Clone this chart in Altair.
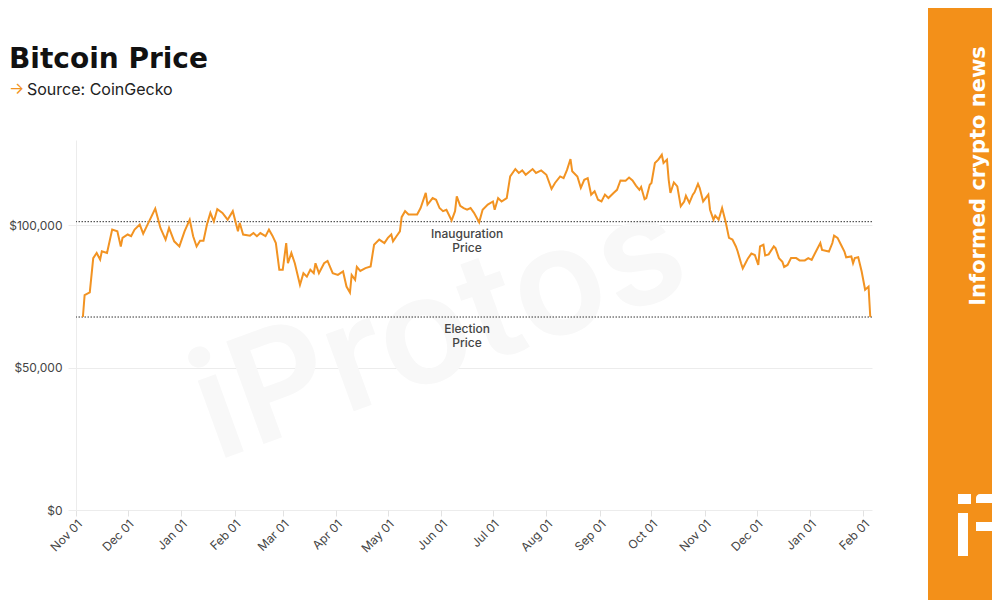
import altair as alt
import pandas as pd

# ---------------- data ----------------
dates = [
    "2024-11-05", "2024-11-06", "2024-11-09", "2024-11-11", "2024-11-13", "2024-11-15",
    "2024-11-16", "2024-11-19", "2024-11-22", "2024-11-25", "2024-11-27", "2024-11-28",
    "2024-12-01", "2024-12-03", "2024-12-05", "2024-12-08", "2024-12-10", "2024-12-13",
    "2024-12-17", "2024-12-20", "2024-12-23", "2024-12-25", "2024-12-28", "2024-12-31",
    "2025-01-03", "2025-01-06", "2025-01-08", "2025-01-10", "2025-01-12", "2025-01-14",
    "2025-01-16", "2025-01-18", "2025-01-20", "2025-01-22", "2025-01-25", "2025-01-28",
    "2025-01-31", "2025-02-03", "2025-02-04", "2025-02-06", "2025-02-10", "2025-02-12",
    "2025-02-14", "2025-02-16", "2025-02-19", "2025-02-21", "2025-02-23", "2025-02-25",
    "2025-02-27", "2025-03-01", "2025-03-03", "2025-03-04", "2025-03-06", "2025-03-08",
    "2025-03-11", "2025-03-13", "2025-03-15", "2025-03-17", "2025-03-19", "2025-03-20",
    "2025-03-22", "2025-03-25", "2025-03-27", "2025-03-30", "2025-04-02", "2025-04-05",
    "2025-04-07", "2025-04-09", "2025-04-10", "2025-04-12", "2025-04-13", "2025-04-15",
    "2025-04-18", "2025-04-21", "2025-04-23", "2025-04-26", "2025-04-29", "2025-05-01",
    "2025-05-03", "2025-05-04", "2025-05-06", "2025-05-08", "2025-05-09", "2025-05-11",
    "2025-05-13", "2025-05-16", "2025-05-18", "2025-05-20", "2025-05-23", "2025-05-24",
    "2025-05-27", "2025-05-29", "2025-05-31", "2025-06-02", "2025-06-04", "2025-06-07",
    "2025-06-09", "2025-06-10", "2025-06-12", "2025-06-14", "2025-06-16", "2025-06-18",
    "2025-06-20", "2025-06-23", "2025-06-25", "2025-06-28", "2025-07-01", "2025-07-02",
    "2025-07-04", "2025-07-06", "2025-07-09", "2025-07-11", "2025-07-14", "2025-07-16",
    "2025-07-18", "2025-07-20", "2025-07-24", "2025-07-26", "2025-07-29", "2025-08-01",
    "2025-08-04", "2025-08-06", "2025-08-09", "2025-08-11", "2025-08-13", "2025-08-15",
    "2025-08-16", "2025-08-19", "2025-08-21", "2025-08-23", "2025-08-25", "2025-08-27",
    "2025-08-29", "2025-08-31", "2025-09-02", "2025-09-04", "2025-09-06", "2025-09-09",
    "2025-09-11", "2025-09-13", "2025-09-16", "2025-09-18", "2025-09-20", "2025-09-22",
    "2025-09-24", "2025-09-25", "2025-09-27", "2025-09-28", "2025-09-30", "2025-10-01",
    "2025-10-03", "2025-10-05", "2025-10-07", "2025-10-08", "2025-10-10", "2025-10-11",
    "2025-10-12", "2025-10-14", "2025-10-16", "2025-10-18", "2025-10-20", "2025-10-21",
    "2025-10-23", "2025-10-25", "2025-10-26", "2025-10-28", "2025-10-29", "2025-10-31",
    "2025-11-03", "2025-11-04", "2025-11-06", "2025-11-07", "2025-11-09", "2025-11-11",
    "2025-11-13", "2025-11-15", "2025-11-17", "2025-11-19", "2025-11-20", "2025-11-22",
    "2025-11-23", "2025-11-25", "2025-11-26", "2025-11-28", "2025-11-30", "2025-12-02",
    "2025-12-03", "2025-12-05", "2025-12-06", "2025-12-08", "2025-12-11", "2025-12-12",
    "2025-12-14", "2025-12-16", "2025-12-17", "2025-12-19", "2025-12-21", "2025-12-24",
    "2025-12-26", "2025-12-29", "2025-12-31", "2026-01-02", "2026-01-04", "2026-01-07",
    "2026-01-08", "2026-01-12", "2026-01-14", "2026-01-15", "2026-01-17", "2026-01-19",
    "2026-01-21", "2026-01-22", "2026-01-25", "2026-01-26", "2026-01-27", "2026-01-29",
    "2026-01-31", "2026-02-02", "2026-02-04", "2026-02-05",
]

prices = [
    67800, 75500, 76500, 88500, 90300, 88000,
    90900, 90300, 98500, 97900, 92600, 95600,
    96800, 96200, 98500, 100300, 97100, 100900,
    105900, 99100, 95000, 99100, 94400, 92600,
    97900, 102000, 96200, 92600, 94600, 94600,
    100300, 104400, 101400, 105700, 104400, 102000,
    105000, 97900, 100900, 96800, 96400, 97300,
    96200, 97300, 96200, 98500, 96400, 93800,
    84400, 84400, 93800, 86700, 90300, 86700,
    79100, 83200, 82000, 84400, 83200, 86700,
    83200, 86700, 87500, 83200, 82600, 83800,
    78500, 76400, 82600, 80900, 85400, 84000,
    85000, 85600, 93200, 95000, 93800, 95600,
    96800, 94400, 96200, 97900, 102900, 105000,
    103800, 103800, 103800, 106100, 111400, 107300,
    109600, 109000, 106100, 105000, 105500, 101700,
    105000, 110200, 106900, 106100, 105500, 106100,
    104400, 101100, 105500, 107300, 108400, 105500,
    109600, 108400, 109600, 117200, 119800, 118400,
    119300, 117800, 119800, 118400, 119300, 117800,
    112800, 114900, 117200, 116600, 119500, 123300,
    119000, 117200, 113200, 116000, 116600, 110800,
    112000, 109000, 108400, 110800, 109600, 111400,
    112500, 115800, 115700, 116800, 115800, 114000,
    112500, 113500, 109200, 109600, 114300, 114900,
    121900, 123100, 124800, 121900, 123100, 116000,
    111400, 115100, 113700, 106700, 108400, 110400,
    107900, 110800, 111600, 114600, 113100, 108400,
    110800, 105500, 102000, 103400, 102000, 106100,
    101400, 95600, 95000, 92600, 90900, 86700,
    84900, 87200, 88400, 90100, 89600, 86100,
    92600, 93200, 89400, 89800, 92600, 92000,
    88500, 87200, 85400, 86100, 88500, 88500,
    87700, 87700, 88500, 87900, 90300, 93800,
    91400, 90800, 93800, 96400, 95600, 93200,
    90800, 88800, 89100, 86700, 88500, 88800,
    83800, 77400, 78500, 67800,
]

ref_labels = ["Inauguration\nPrice", "Election\nPrice"]
ref_values = [101300, 67800]
ref_label_dates = ["2025-06-16", "2025-06-16"]

y_ticks = [0, 50000, 100000]

title_text = "Bitcoin Price"
source_arrow = "\u2192"
source_text = "Source: CoinGecko"
side_text = "Informed crypto news"
watermark_text = "iProtos"

# ---------------- styling ----------------
FONT = "Inter"
HEAD_FONT = "DejaVu Sans"
LINE_ORANGE = "#F29322"
BAND_ORANGE = "#F39019"
TEXT_GREY = "#444444"
GRID = "#ececec"

price_df = pd.DataFrame({"date": dates, "price": prices})
ref_df = pd.DataFrame({"label": ref_labels, "value": ref_values, "date": ref_label_dates})
anchor = pd.DataFrame({"k": [0]})

x_scale = alt.Scale(
    type="utc",
    domain=[
        alt.DateTime(year=2024, month=11, date=1, utc=True),
        alt.DateTime(year=2026, month=2, date=6, utc=True),
    ],
)
y_scale = alt.Scale(domain=[0, 130000], nice=False)

line = alt.Chart(price_df).mark_line(color=LINE_ORANGE, strokeWidth=2).encode(
    x=alt.X(
        "date:T",
        scale=x_scale,
        axis=alt.Axis(
            title=None, tickCount="month",
            labelExpr="utcFormat(datum.value, '%b %d')",
            labelAngle=-45, labelFontSize=12, labelColor=TEXT_GREY, labelFont=FONT,
            grid=False, domain=False, tickColor="#e2e2e2", tickSize=6, labelPadding=2,
        ),
    ),
    y=alt.Y(
        "price:Q",
        scale=y_scale,
        axis=alt.Axis(
            title=None, values=y_ticks, format="$,.0f", labelFontSize=12,
            labelColor=TEXT_GREY, labelFont=FONT, gridColor=GRID, domainColor=GRID,
            tickColor=GRID, tickSize=8, labelPadding=6,
        ),
    ),
)

rules = alt.Chart(ref_df).mark_rule(color="#333333", strokeDash=[1.5, 1.5], strokeWidth=1).encode(
    y=alt.Y("value:Q", scale=y_scale)
)

ann = alt.Chart(ref_df).mark_text(
    font=FONT, fontSize=12, fontWeight=500, color=TEXT_GREY, baseline="top",
    align="center", dy=7, lineBreak="\n", lineHeight=14,
).encode(x=alt.X("date:T", scale=x_scale), y=alt.Y("value:Q", scale=y_scale), text="label:N")

watermark = alt.Chart(anchor).mark_text(
    text=watermark_text, font=FONT, fontSize=150, fontWeight=600, color="#f8f8f8",
    angle=340, align="center", baseline="middle",
).encode(x=alt.value(364), y=alt.value(192))

title = alt.Chart(anchor).mark_text(
    text=title_text, font=HEAD_FONT, fontSize=28, fontWeight="bold", color="#111111",
    align="left", baseline="alphabetic",
).encode(x=alt.value(-67), y=alt.value(-72))

arrow = alt.Chart(anchor).mark_text(
    text=source_arrow, font=FONT, fontSize=16, color=LINE_ORANGE,
    align="left", baseline="alphabetic",
).encode(x=alt.value(-67), y=alt.value(-46))

source = alt.Chart(anchor).mark_text(
    text=source_text, font=FONT, fontSize=16, color="#222222",
    align="left", baseline="alphabetic",
).encode(x=alt.value(-49), y=alt.value(-45))

band = alt.Chart(anchor).mark_rect(color=BAND_ORANGE).encode(
    x=alt.value(852), x2=alt.value(916), y=alt.value(-132), y2=alt.value(460)
)

side = alt.Chart(anchor).mark_text(
    text=side_text, font=HEAD_FONT, fontSize=21, fontWeight="bold", color="white",
    angle=270, align="center", baseline="alphabetic",
).encode(x=alt.value(909), y=alt.value(36))

logo_dot = alt.Chart(anchor).mark_rect(color="white").encode(
    x=alt.value(882), x2=alt.value(895), y=alt.value(354), y2=alt.value(364)
)
logo_stem = alt.Chart(anchor).mark_rect(color="white").encode(
    x=alt.value(882), x2=alt.value(892), y=alt.value(373), y2=alt.value(416)
)
logo_top = alt.Chart(anchor).mark_rect(color="white", cornerRadiusTopLeft=4).encode(
    x=alt.value(900), x2=alt.value(916), y=alt.value(354), y2=alt.value(363)
)
logo_bottom = alt.Chart(anchor).mark_rect(color="white").encode(
    x=alt.value(900), x2=alt.value(916), y=alt.value(382), y2=alt.value(391)
)

chart = alt.layer(
    watermark, rules, line, ann, title, arrow, source, band, side,
    logo_dot, logo_stem, logo_top, logo_bottom,
).properties(
    width=796,
    height=370,
    padding={"left": 68, "top": 132, "right": 120, "bottom": 90},
    autosize=alt.AutoSizeParams(type="none"),
    background="white",
).configure_view(stroke=None)

chart.save("out.html", embed_options={"renderer": "svg", "actions": False})
